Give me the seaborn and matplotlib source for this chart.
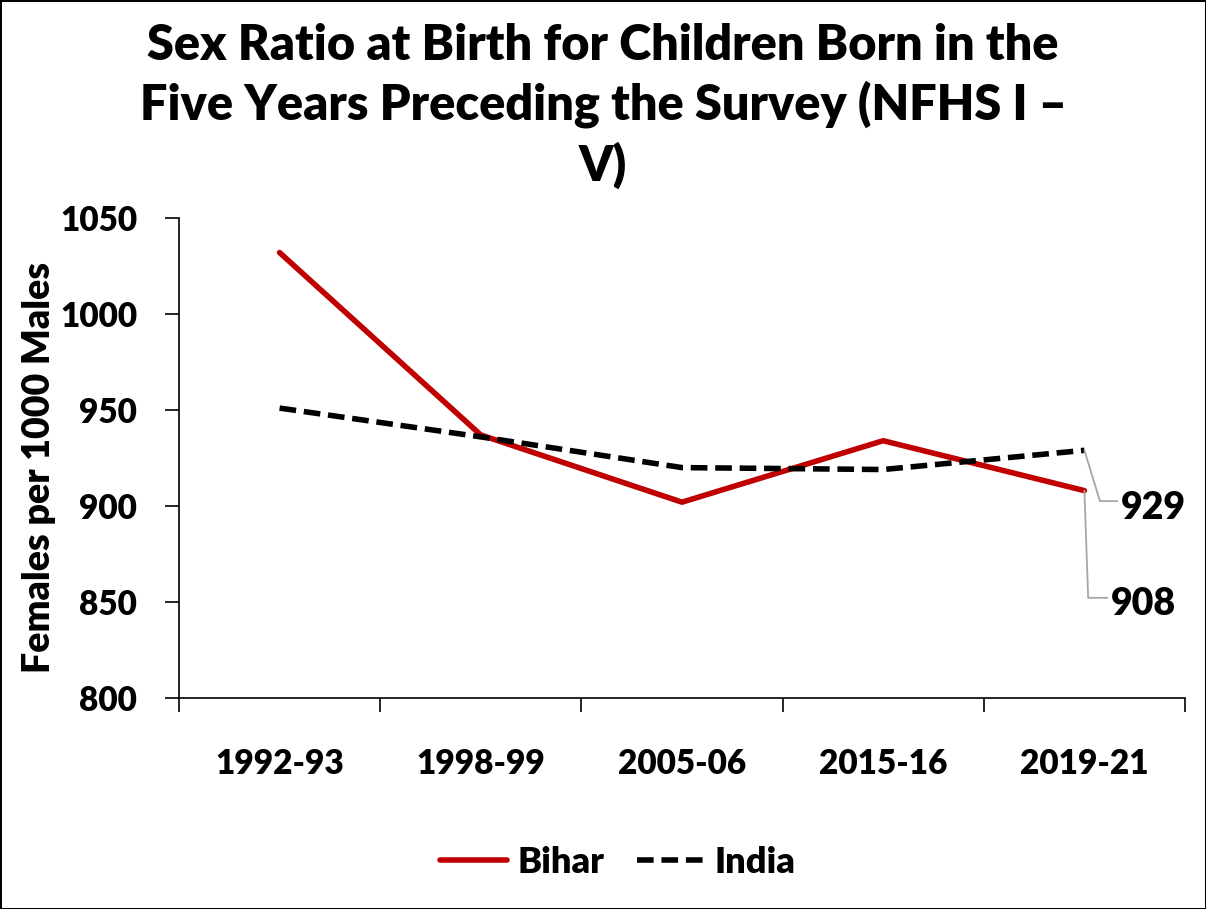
"""
Sex ratio at birth (NFHS I - V), Bihar vs India, als Liniendiagramm.
"""

import pandas as pd
import matplotlib.pyplot as plt
import seaborn as sns
from matplotlib.ticker import FixedLocator

# Daten
jahre = ["1992-93", "1998-99", "2005-06", "2015-16", "2019-21"]
bihar = [1032, 937, 902, 934, 908]
india = [951, 936, 920, 919, 929]

df = pd.DataFrame({
    "Jahr": jahre * 2,
    "Wert": bihar + india,
    "Region": ["Bihar"] * len(jahre) + ["India"] * len(jahre),
})

sns.set_style("white")
plt.rcParams["font.family"] = ["Lato", "DejaVu Sans"]
plt.rcParams["font.weight"] = "bold"
for key in ["text.color", "axes.labelcolor", "xtick.color", "ytick.color"]:
    plt.rcParams[key] = "black"

fig = plt.figure(figsize=(12.06, 9.09), dpi=100)
fig.patch.set_edgecolor("black")
fig.patch.set_linewidth(2)
ax = fig.add_axes([0.1484, 0.2321, 0.8342, 0.5281])

sns.lineplot(
    data=df, x="Jahr", y="Wert", hue="Region", style="Region",
    palette={"Bihar": "#C00000", "India": "black"},
    dashes={"Bihar": "", "India": (3, 1.4)},
    linewidth=4, sort=False, ax=ax,
)

ax.set_ylim(800, 1050)
ax.set_yticks([800, 850, 900, 950, 1000, 1050])
ax.set_xlim(-0.5, len(jahre) - 0.5)
ax.xaxis.set_minor_locator(FixedLocator([i - 0.5 for i in range(len(jahre) + 1)]))
ax.tick_params(axis="x", which="major", length=0, pad=36, labelsize=24)
ax.tick_params(axis="x", which="minor", length=10, width=1.2, direction="out", color="black", bottom=True)
ax.tick_params(axis="y", length=10, width=1.2, direction="out", color="black", left=True, labelsize=24, pad=20)
for lab in ax.get_xticklabels() + ax.get_yticklabels():
    lab.set_fontweight("heavy")

sns.despine(ax=ax)
ax.spines["left"].set_color("black")
ax.spines["bottom"].set_color("black")
ax.spines["left"].set_linewidth(1.2)
ax.spines["bottom"].set_linewidth(1.2)

ax.set_xlabel("")
ax.set_ylabel("Females per 1000 Males", fontsize=27, fontweight="heavy", labelpad=3)
ax.yaxis.label.set_y(0.48)

# Datenbeschriftungen am Ende
ax.annotate(str(india[-1]), xy=(4, india[-1]), xytext=(4.18, 899),
            fontsize=27, fontweight="heavy", va="center", ha="left",
            arrowprops=dict(arrowstyle="-", color="#a6a6a6", lw=1.3,
                            shrinkA=0, shrinkB=0, relpos=(0, 0.7),
                            connectionstyle="angle,angleA=180,angleB=-73,rad=0"))
ax.annotate(str(bihar[-1]), xy=(4, bihar[-1]), xytext=(4.13, 849),
            fontsize=27, fontweight="heavy", va="center", ha="left",
            arrowprops=dict(arrowstyle="-", color="#a6a6a6", lw=1.3,
                            shrinkA=0, shrinkB=0, relpos=(0, 0.68),
                            connectionstyle="angle,angleA=180,angleB=-88,rad=0"))

fig.text(0.5, 0.975,
         "Sex Ratio at Birth for Children Born in the\nFive Years Preceding the Survey (NFHS I \u2013\nV)",
         ha="center", va="top", fontsize=35, fontweight="heavy", linespacing=1.33)

leg = ax.legend(loc="center", bbox_to_anchor=(0.436, -0.342), ncol=2, frameon=False,
                prop={"size": 26, "weight": "heavy"},
                handlelength=1.85, columnspacing=0.9, handletextpad=0.3)
for h in leg.get_lines():
    h.set_linewidth(4)

fig.savefig("out.png", dpi=100)
